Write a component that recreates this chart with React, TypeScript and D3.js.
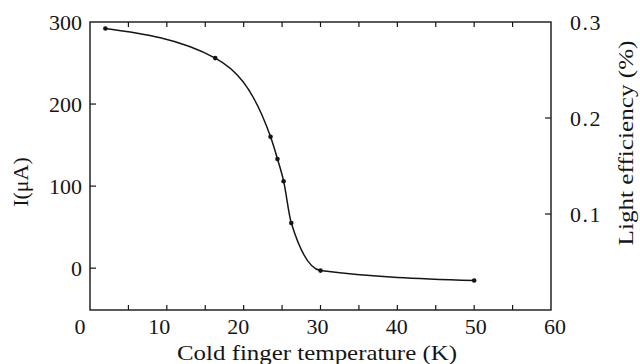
import React from "react";
import * as d3 from "d3";

const temps = [2, 16.3, 23.5, 24.4, 25.2, 26.2, 30, 50];
const current = [292, 256, 160, 133, 106, 55, -3, -15];
const xTicks = [0, 10, 20, 30, 40, 50, 60];
const xMinorTicks = [5, 15, 25, 35, 45, 55];
const yTicks = [0, 100, 200, 300];
const y2Ticks = [0.1, 0.2, 0.3];

const W = 640, H = 364;
const L = 90, R = 551, T = 22, B = 310;

export default function App() {
  const x = d3.scaleLinear().domain([0, 60]).range([L, R]);
  const xLab = d3.scaleLinear().domain([0, 60]).range([80, 555]);
  const y = d3.scaleLinear().domain([-51, 300]).range([B, T]);
  const y2 = d3.scaleLinear().domain([0, 0.3]).range([B, T]);
  const pts: [number, number][] = temps.map((t, i) => [x(t), y(current[i])]);
  const line = d3.line().curve(d3.curveMonotoneX)(pts) || "";
  const font = "'Liberation Serif', 'Times New Roman', serif";
  const col = "#151515";
  return (
    <div style={{ position: "absolute", left: 0, top: 0 }}>
      <svg width={W} height={H} style={{ display: "block", background: "#fff" }}>
        <rect x={L} y={T} width={R - L} height={B - T} fill="none" stroke={col} strokeWidth={1.4} />
        {[...xTicks, ...xMinorTicks].filter(t => t > 0 && t < 60).map(t => (
          <g key={"xt" + t}>
            <line x1={x(t)} x2={x(t)} y1={B} y2={B - 5} stroke={col} strokeWidth={1.2} />
            <line x1={x(t)} x2={x(t)} y1={T} y2={T + 5} stroke={col} strokeWidth={1.2} />
          </g>
        ))}
        {yTicks.filter(t => t < 300).map(t => (
          <line key={"yt" + t} x1={L} x2={L + 6} y1={y(t)} y2={y(t)} stroke={col} strokeWidth={1.2} />
        ))}
        {y2Ticks.filter(t => t < 0.3).map(t => (
          <line key={"y2t" + t} x1={R} x2={R - 6} y1={y2(t)} y2={y2(t)} stroke={col} strokeWidth={1.2} />
        ))}
        {xTicks.map(t => (
          <text key={"xl" + t} x={xLab(t)} y={334} textAnchor="middle" fontFamily={font} fontSize={22} fill={col}>{t}</text>
        ))}
        {yTicks.map(t => (
          <text key={"yl" + t} x={L - 8} y={y(t) + 8} textAnchor="end" fontFamily={font} fontSize={22} fill={col}>{t}</text>
        ))}
        {y2Ticks.map(t => (
          <text key={"y2l" + t} x={R + 19} y={y2(t) + 8} textAnchor="start" fontFamily={font} fontSize={22} letterSpacing={1.5} fill={col}>{t.toFixed(1)}</text>
        ))}
        <text x={317} y={360} textAnchor="middle" fontFamily={font} fontSize={21} textLength={280} lengthAdjust="spacingAndGlyphs" fill={col}>Cold finger temperature (K)</text>
        <text transform={`translate(28,182) rotate(-90)`} textAnchor="middle" fontFamily={font} fontSize={22} fill={col}>I(μA)</text>
        <text transform={`translate(633,143) rotate(-90)`} textAnchor="middle" fontFamily={font} fontSize={21} textLength={205} lengthAdjust="spacingAndGlyphs" fill={col}>Light efficiency (%)</text>
        <path d={line} fill="none" stroke={col} strokeWidth={1.5} />
        {pts.map((p, i) => (
          <circle key={"p" + i} cx={p[0]} cy={p[1]} r={2.3} fill={col} />
        ))}
      </svg>
    </div>
  );
}
